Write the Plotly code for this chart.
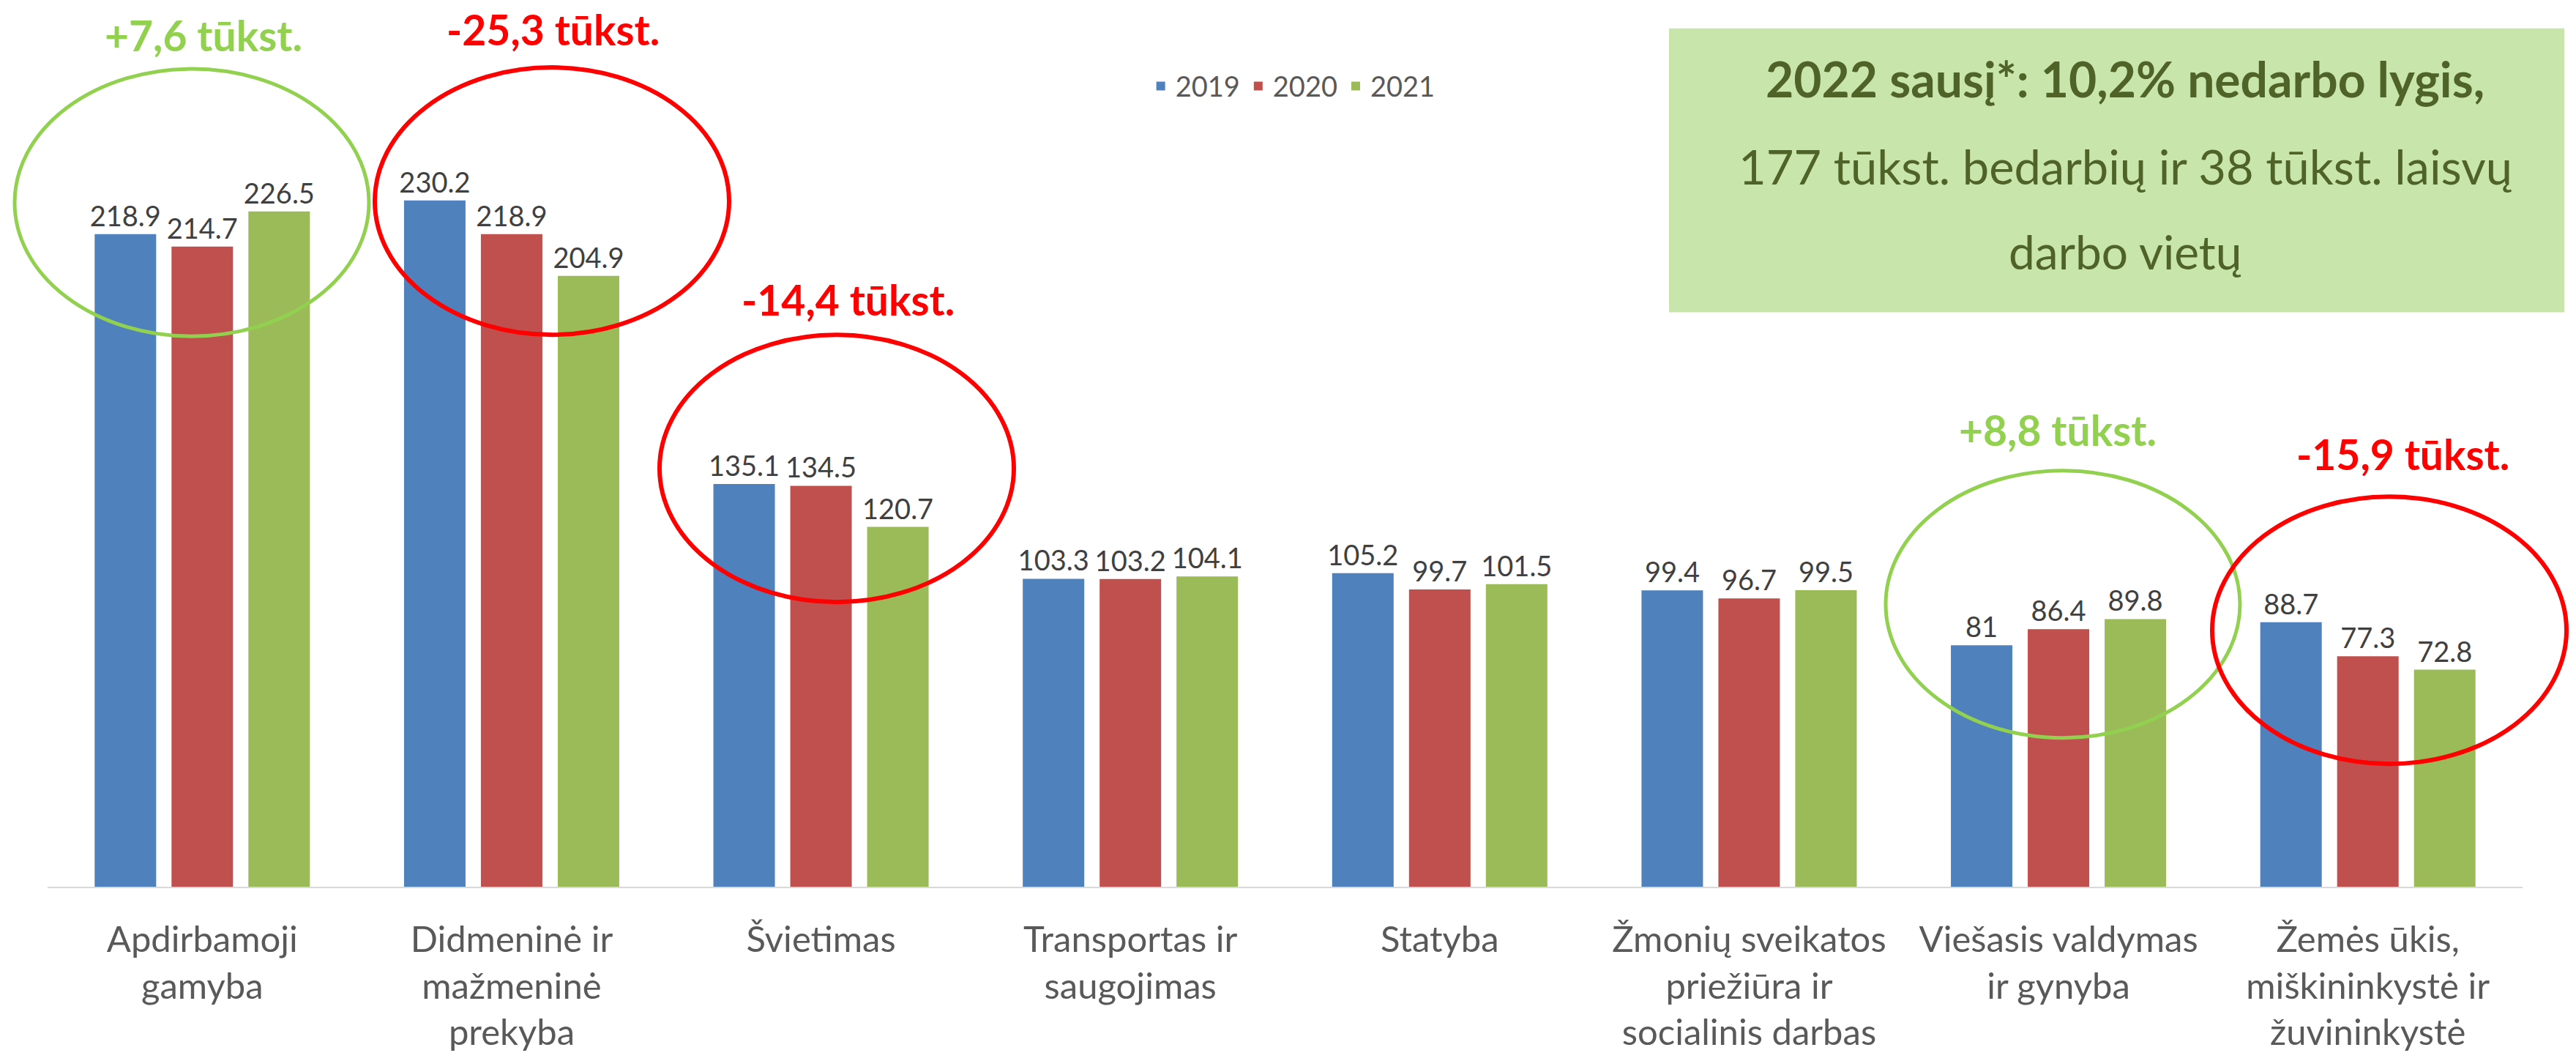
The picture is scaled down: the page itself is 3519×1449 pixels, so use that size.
import plotly.graph_objects as go

# ---- data ----
categories = [
    "Apdirbamoji gamyba",
    "Didmeninė ir mažmeninė prekyba",
    "Švietimas",
    "Transportas ir saugojimas",
    "Statyba",
    "Žmonių sveikatos priežiūra ir socialinis darbas",
    "Viešasis valdymas ir gynyba",
    "Žemės ūkis, miškininkystė ir žuvininkystė",
]
tick_labels = [
    "Apdirbamoji<br>gamyba",
    "Didmeninė ir<br>mažmeninė<br>prekyba",
    "Švietimas",
    "Transportas ir<br>saugojimas",
    "Statyba",
    "Žmonių sveikatos<br>priežiūra ir<br>socialinis darbas",
    "Viešasis valdymas<br>ir gynyba",
    "Žemės ūkis,<br>miškininkystė ir<br>žuvininkystė",
]
years = ["2019", "2020", "2021"]
values_2019 = [218.9, 230.2, 135.1, 103.3, 105.2, 99.4, 81, 88.7]
values_2020 = [214.7, 218.9, 134.5, 103.2, 99.7, 96.7, 86.4, 77.3]
values_2021 = [226.5, 204.9, 120.7, 104.1, 101.5, 99.5, 89.8, 72.8]
series_values = [values_2019, values_2020, values_2021]
colors = ["#4F81BD", "#C0504D", "#9BBB59"]

change_labels = ["+7,6 tūkst.", "-25,3 tūkst.", "-14,4 tūkst.", "+8,8 tūkst.", "-15,9 tūkst."]
box_lines = ["<b>2022 sausį*: 10,2% nedarbo lygis,</b>",
             "177 tūkst. bedarbių ir 38 tūkst. laisvų",
             "darbo vietų"]

# ---- layout geometry (pixels) ----
W, H = 3519, 1449
ML, MR, MT, MB = 65, 73, 27, 222
PW, PH = W - ML - MR, H - MT - MB
Y_MAX = 290.8

def px(x):
    return (x - ML) / PW

def py(y):
    return (H - MB - y) / PH

FONT = "Lato, 'Open Sans', sans-serif"

fig = go.Figure()
for name, vals, col in zip(years, series_values, colors):
    fig.add_trace(go.Bar(
        name=name, x=categories, y=vals,
        marker=dict(color=col, line=dict(width=0)),
        text=[f"{v:g}" for v in vals], textposition="outside",
        constraintext="none",
        textfont=dict(family=FONT, size=38, color="#404040"),
        cliponaxis=False,
    ))

# ellipses (pixel centres, radii)
ellipses = [
    (262, 280, "#92D050", 5),
    (754, 278, "#FF0000", 6),
    (1143, 648, "#FF0000", 6),
    (2818, 836, "#92D050", 5),
    (3264, 872, "#FF0000", 6),
]
RX, RY = 242, 185
shapes = []
for cx, cy, col, lw in ellipses:
    shapes.append(dict(type="circle", xref="paper", yref="paper",
                       x0=px(cx - RX), x1=px(cx + RX), y0=py(cy + RY), y1=py(cy - RY),
                       line=dict(color=col, width=lw), fillcolor="rgba(0,0,0,0)", layer="above"))
# info box
shapes.append(dict(type="rect", xref="paper", yref="paper",
                   x0=px(2280), x1=px(3503), y0=py(432), y1=py(39),
                   fillcolor="#C8E6AB", line=dict(width=0), layer="below"))

annotations = []
change_pos = [(278, 48, "#92D050"), (755, 40, "#FF0000"), (1158, 414, "#FF0000"),
              (2811, 595, "#92D050"), (3282, 628, "#FF0000")]
for txt, (x, y, col) in zip(change_labels, change_pos):
    annotations.append(dict(xref="paper", yref="paper", x=px(x), y=py(y),
                            text=f"<b>{txt}</b>", showarrow=False,
                            xanchor="center", yanchor="middle",
                            font=dict(family=FONT, size=57, color=col)))
for txt, y, fs in zip(box_lines, [109, 230, 348], [66, 65, 64]):
    annotations.append(dict(xref="paper", yref="paper", x=px(2903), y=py(y),
                            text=txt, showarrow=False, xanchor="center", yanchor="middle",
                            font=dict(family=FONT, size=fs, color="#4F6228")))

fig.update_layout(
    width=W, height=H,
    margin=dict(l=ML, r=MR, t=MT, b=MB, pad=0),
    paper_bgcolor="white", plot_bgcolor="white",
    barmode="group", bargap=0.2546, bargroupgap=0.2,
    showlegend=True,
    legend=dict(orientation="h", x=0.503, xanchor="center", y=py(119), yanchor="middle",
                font=dict(family=FONT, size=38, color="#595959"),
                bgcolor="rgba(0,0,0,0)"),
    shapes=shapes, annotations=annotations,
    xaxis=dict(tickvals=categories, ticktext=tick_labels,
               showline=True, linecolor="#D9D9D9", linewidth=2,
               showgrid=False, zeroline=False, ticks="",
               ticklabelstandoff=28,
               tickfont=dict(family=FONT, size=49, color="#595959")),
    yaxis=dict(range=[0, Y_MAX], visible=False, showgrid=False, zeroline=False),
)

fig.write_html("out.html")
